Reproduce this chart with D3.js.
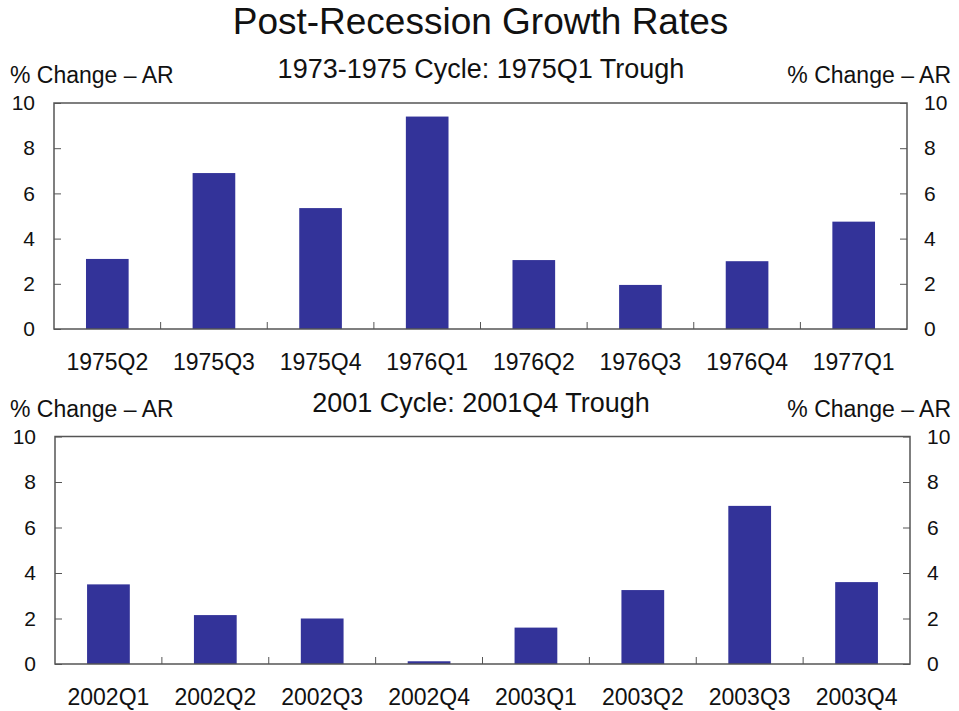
<!DOCTYPE html>
<html>
<head>
<meta charset="utf-8">
<script src="https://cdn.jsdelivr.net/npm/d3@7"></script>
<style>
  body { margin: 0; background: #fff; }
  text { font-family: "Liberation Sans", Arial, sans-serif; fill: #111; }
</style>
</head>
<body>
<div id="chart"></div>
<script>
// data
var title = 'Post-Recession Growth Rates'
var unitLabel = '% Change \u2013 AR'
var yTicks = [0, 2, 4, 6, 8, 10]

var cycle1Title = '1973-1975 Cycle: 1975Q1 Trough'
var cycle1Quarters = ['1975Q2', '1975Q3', '1975Q4', '1976Q1', '1976Q2', '1976Q3', '1976Q4', '1977Q1']
var cycle1Values = [3.1, 6.9, 5.35, 9.4, 3.05, 1.95, 3.0, 4.75]

var cycle2Title = '2001 Cycle: 2001Q4 Trough'
var cycle2Quarters = ['2002Q1', '2002Q2', '2002Q3', '2002Q4', '2003Q1', '2003Q2', '2003Q3', '2003Q4']
var cycle2Values = [3.5, 2.15, 2.0, 0.12, 1.6, 3.25, 6.95, 3.6]

var W = 959, H = 711
var barColor = '#333399'
var frameColor = '#555'

var svg = d3.select('#chart').append('svg')
  .attr('width', W)
  .attr('height', H)

svg.append('text')
  .attr('x', 480.5)
  .attr('y', 34)
  .attr('text-anchor', 'middle')
  .style('font-size', '37px')
  .text(title)

function drawPanel(opts) {
  var x = d3.scaleBand()
    .domain(opts.quarters)
    .range([opts.left, opts.right])
    .paddingInner(0.6)
    .paddingOuter(0.3)

  // band scale for tick positions at category boundaries
  var xb = d3.scaleBand().domain(opts.quarters).range([opts.left, opts.right])

  var y = d3.scaleLinear()
    .domain([0, 10])
    .range([opts.bottom, opts.top])

  var g = svg.append('g')

  // subtitle + unit labels
  g.append('text')
    .attr('x', 481)
    .attr('y', opts.top - 25)
    .attr('text-anchor', 'middle')
    .style('font-size', '27px')
    .text(opts.title)

  g.append('text')
    .attr('x', 10)
    .attr('y', opts.top - 20)
    .style('font-size', '23px')
    .text(unitLabel)

  g.append('text')
    .attr('x', 951)
    .attr('y', opts.top - 20)
    .attr('text-anchor', 'end')
    .style('font-size', '23px')
    .text(unitLabel)

  // bars
  g.selectAll('.bar')
    .data(opts.values)
    .enter().append('rect')
    .attr('class', 'bar')
    .attr('x', function(d, i) { return x(opts.quarters[i]) })
    .attr('width', x.bandwidth())
    .attr('y', function(d) { return y(d) })
    .attr('height', function(d) { return y(0) - y(d) })
    .style('fill', barColor)

  // left axis
  var leftAxis = d3.axisLeft(y).tickValues(yTicks).tickSizeInner(-7).tickSizeOuter(0).tickPadding(19)
  var la = g.append('g')
    .attr('transform', 'translate(' + opts.left + ',0)')
    .call(leftAxis)

  var rightAxis = d3.axisRight(y).tickValues(yTicks).tickSizeInner(-7).tickSizeOuter(0).tickPadding(17)
  var ra = g.append('g')
    .attr('transform', 'translate(' + opts.right + ',0)')
    .call(rightAxis)

  ;[la, ra].forEach(function(a) {
    a.selectAll('text').style('font-size', '21px').attr('font-family', null).style('fill', '#111')
    a.selectAll('line').style('stroke', frameColor)
    a.select('.domain').remove()
    a.attr('font-family', null)
  })

  // x axis with ticks at category boundaries
  var xa = g.append('g')
    .attr('transform', 'translate(0,' + opts.bottom + ')')
  xa.selectAll('.xtick')
    .data(opts.quarters.slice(1))
    .enter().append('line')
    .attr('x1', function(d) { return xb(d) })
    .attr('x2', function(d) { return xb(d) })
    .attr('y1', 0)
    .attr('y2', -7)
    .style('stroke', frameColor)
  xa.selectAll('.xlabel')
    .data(opts.quarters)
    .enter().append('text')
    .attr('x', function(d) { return xb(d) + xb.bandwidth() / 2 })
    .attr('y', 41)
    .attr('text-anchor', 'middle')
    .style('font-size', '23px')
    .text(function(d) { return d })

  // frame
  g.append('rect')
    .attr('x', opts.left)
    .attr('y', opts.top)
    .attr('width', opts.right - opts.left)
    .attr('height', opts.bottom - opts.top)
    .style('fill', 'none')
    .style('stroke', frameColor)
    .style('stroke-width', 1.5)
}

drawPanel({ title: cycle1Title, quarters: cycle1Quarters, values: cycle1Values,
  left: 54, right: 907, top: 103, bottom: 329 })
drawPanel({ title: cycle2Title, quarters: cycle2Quarters, values: cycle2Values,
  left: 55, right: 910, top: 436.5, bottom: 664 })
</script>
</body>
</html>
